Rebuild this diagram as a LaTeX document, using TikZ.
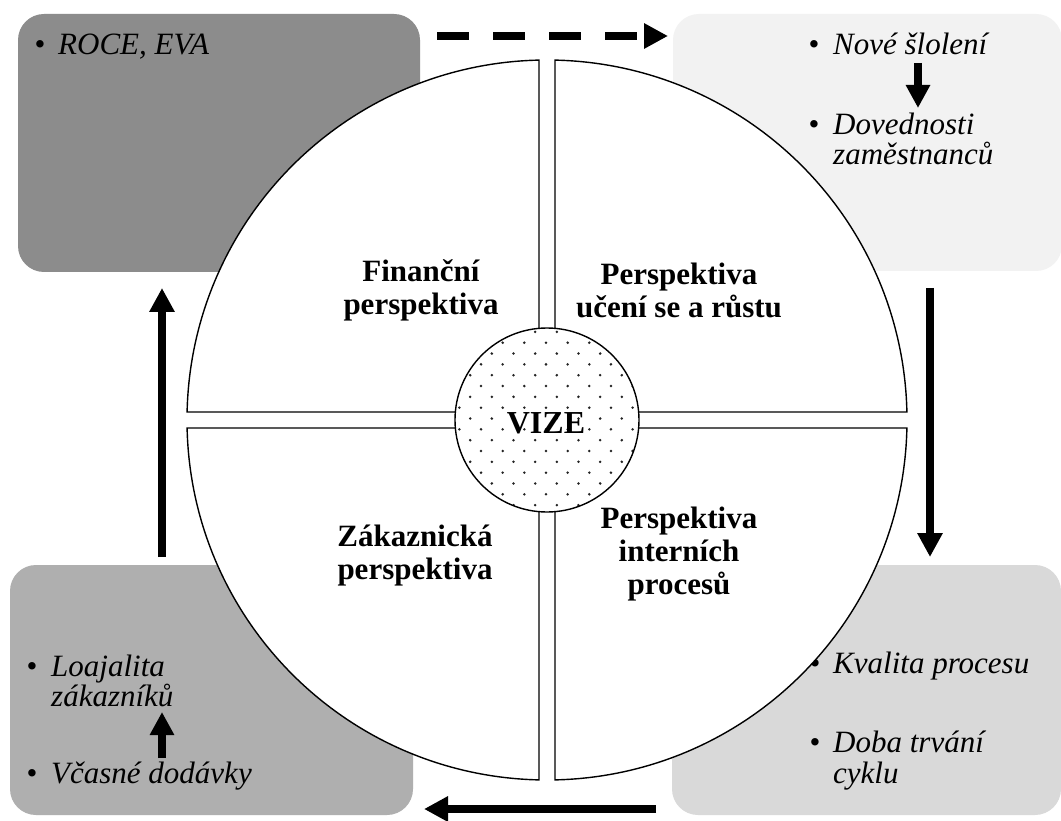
\documentclass[tikz,border=0pt]{standalone}
\usepackage{fontspec}
\setmainfont{Liberation Serif}
\usetikzlibrary{arrows.meta}
\definecolor{boxTL}{RGB}{140,140,140}
\definecolor{boxTR}{RGB}{242,242,242}
\definecolor{boxBL}{RGB}{175,175,175}
\definecolor{boxBR}{RGB}{217,217,217}
\definecolor{dotc}{RGB}{35,35,35}
\tikzset{
  box/.style={rectangle, rounded corners=26pt, draw=none, inner sep=0pt},
  item/.style={anchor=base west, inner sep=0pt, font=\fontsize{31}{33}\selectfont\itshape},
  bul/.style={anchor=base, inner sep=0pt, font=\fontsize{31}{33}\selectfont},
  persp/.style={align=center, inner sep=0pt, font=\fontsize{31}{33}\selectfont\bfseries},
  sector/.style={draw=black, fill=white, line width=1.4pt, line join=miter},
  bigarrow/.style={line width=8pt, -{Triangle[length=24pt,width=24pt]}},
  smallarrow/.style={line width=8pt, -{Triangle[length=23pt,width=23pt]}},
}
\begin{document}
\begin{tikzpicture}[x=1pt,y=1pt,yscale=-1]
\useasboundingbox (0,0) rectangle (1061,821);
\fill[white] (0,0) rectangle (1061,821);

% corner boxes
\node[box, fill=boxTL, minimum width=402pt, minimum height=258pt] (tl) at (219,143) {};
\node[box, fill=boxTR, minimum width=389pt, minimum height=257pt] (tr) at (867.5,142.5) {};
\node[box, fill=boxBL, minimum width=403pt, minimum height=250pt] (bl) at (211.5,690) {};
\node[box, fill=boxBR, minimum width=389pt, minimum height=250pt] (br) at (866.5,690) {};

% box texts
\node[bul] (b1) at (40,55) {•};
\node[item] (t1) at (58,55) {ROCE, EVA};

\node[bul] (b2) at (814,55) {•};
\node[item] (t2) at (833,55) {Nové šlolení};
\node[bul] (b3) at (814,135) {•};
\node[item] (t3) at (833,135) {Dovednosti};
\node[item] (t3b) at (833,165) {zaměstnanců};

\node[bul] (b4) at (32,676) {•};
\node[item] (t4) at (51,676) {Loajalita};
\node[item] (t4b) at (51,706) {zákazníků};
\node[bul] (b5) at (32,783) {•};
\node[item] (t5) at (51,783) {Včasné dodávky};

\node[bul] (b6) at (815,673) {•};
\node[item] (t6) at (833,673) {Kvalita procesu};
\node[bul] (b7) at (815,752) {•};
\node[item] (t7) at (833,752) {Doba trvání};
\node[item] (t7b) at (833,783) {cyklu};

% arrows
\coordinate (dA) at (437,36);  \coordinate (dB) at (668,36);
\coordinate (rA) at (930,288); \coordinate (rB) at (930,557);
\coordinate (bA) at (656,809); \coordinate (bB) at (424,809);
\coordinate (lA) at (162,557); \coordinate (lB) at (162,288);
\coordinate (sA) at (918,63);  \coordinate (sB) at (918,108);
\coordinate (uA) at (162,758); \coordinate (uB) at (162,712);
\draw[bigarrow, dash pattern=on 32pt off 24pt] (dA) -- (dB);
\draw[bigarrow] (rA) -- (rB);
\draw[bigarrow] (bA) -- (bB);
\draw[bigarrow] (lA) -- (lB);
\draw[smallarrow] (sA) -- (sB);
\draw[smallarrow] (uA) -- (uB);

% circle sectors
\path[sector] (555,412) -- (906.91,412) arc[start angle=-1.2733, end angle=-88.7267, radius=360pt] -- cycle;
\path[sector] (539,412) -- (187.09,412) arc[start angle=181.2733, end angle=268.7267, radius=360pt] -- cycle;
\path[sector] (539,428) -- (187.09,428) arc[start angle=178.7267, end angle=91.2733, radius=360pt] -- cycle;
\path[sector] (555,428) -- (906.91,428) arc[start angle=1.2733, end angle=88.7267, radius=360pt] -- cycle;

% vision circle
\fill[white] (547,420) circle[radius=92pt];
\begin{scope}
  \clip (547,420) circle[radius=92pt];
  \foreach \j in {-1,...,17} {
    \foreach \i in {-5,...,5} {
      \fill[dotc] ({546+21.66*\i+10.83*mod(abs(\j),2)}, {342.7+10.83*\j}) circle[radius=1.4pt];
    }
  }
\end{scope}
\node[circle, draw=black, line width=1.4pt, minimum size=184pt, inner sep=0pt] (vc) at (547,420) {};
\node[inner sep=0pt, font=\fontsize{32}{33}\selectfont\bfseries] (vize) at (546,423) {VIZE};

% perspective labels
\node[persp] (fin) at (421,290) {Finanční\\perspektiva};
\node[persp] (uc) at (679,290) {Perspektiva\\učení se a růstu};
\node[persp] (zak) at (415,556) {Zákaznická\\perspektiva};
\node[persp] (int) at (679,554) {Perspektiva\\interních\\procesů};
\end{tikzpicture}
\end{document}
